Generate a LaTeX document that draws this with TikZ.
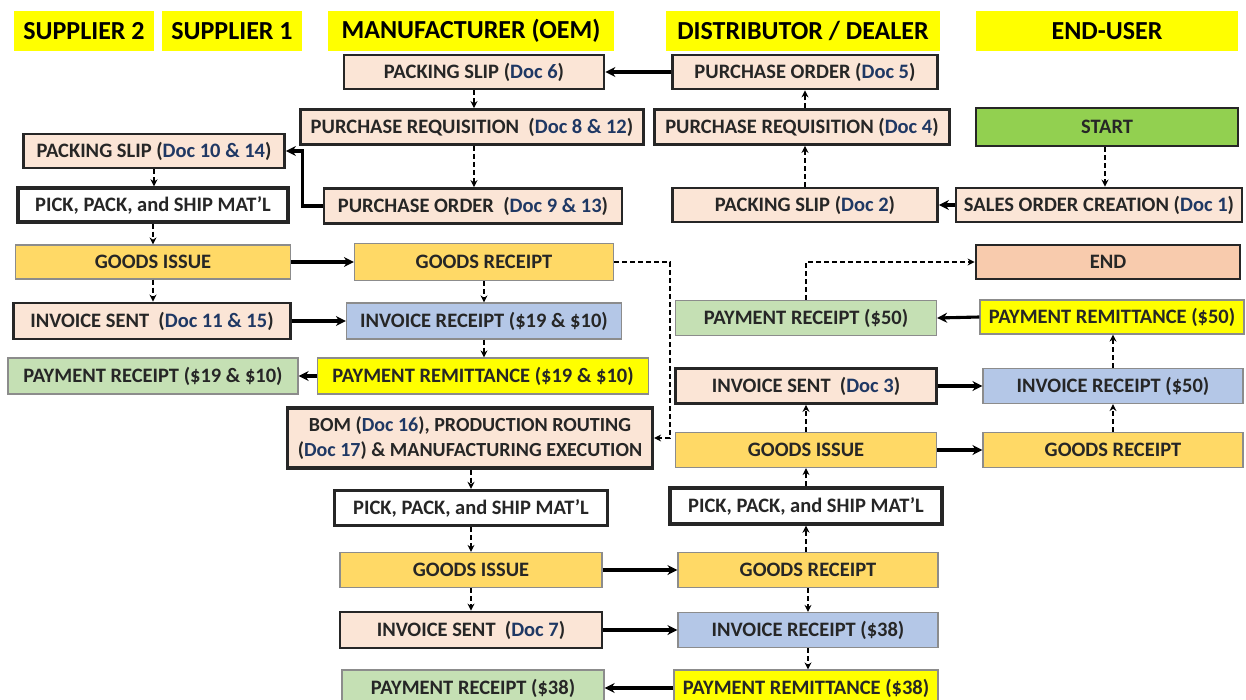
\documentclass[tikz,border=0pt]{standalone}
\usepackage{fontspec}
\setmainfont{Carlito}
\usetikzlibrary{arrows.meta,calc}
\definecolor{peach}{HTML}{FBE5D6}
\definecolor{gold}{HTML}{FFD966}
\definecolor{lblue}{HTML}{B4C7E7}
\definecolor{lgreen}{HTML}{C5E0B4}
\definecolor{yel}{HTML}{FFFF00}
\definecolor{startgreen}{HTML}{92D050}
\definecolor{endsalmon}{HTML}{F8CBAD}
\definecolor{docblue}{HTML}{1F3864}
\definecolor{txt}{HTML}{262626}
\definecolor{thinb}{HTML}{8C8C8C}
\newcommand{\dc}[1]{\textcolor{docblue}{#1}}
\tikzset{
  box/.style={rectangle, inner sep=0pt, align=center, text=txt,
    font=\fontsize{20.5}{23}\selectfont\bfseries},
  thickbox/.style={box, draw=black!85, line width=2.8pt},
  thinbox/.style={box, draw=thinb, line width=1.2pt},
  peachbox/.style={thickbox, fill=peach},
  whitebox/.style={thickbox, fill=white, line width=3.4pt},
  goldbox/.style={thinbox, fill=gold},
  bluebox/.style={thinbox, fill=lblue},
  greenbox/.style={thinbox, fill=lgreen},
  yelbox/.style={thinbox, fill=yel},
  hdr/.style={rectangle, fill=yel, inner sep=0pt, text=black,
    font=\fontsize{26}{30}\selectfont\bfseries, minimum height=40pt},
  sarrow/.style={draw=black, line width=3.1pt, -{Stealth[length=10pt,width=10pt]}},
  darrow/.style={draw=black, line width=1.9pt, dash pattern=on 5pt off 3pt, -{Stealth[length=7pt,width=7pt]}},
}
\begin{document}
\begin{tikzpicture}[x=1pt,y=-1pt]
\useasboundingbox (0,0) rectangle (1246,700);
\fill[white] (0,0) rectangle (1246,700);
\clip (0,0) rectangle (1246,700);
% headers
\node[hdr, minimum width=140pt] (h1) at (84,31) {SUPPLIER 2};
\node[hdr, minimum width=140pt] (h2) at (232,31) {SUPPLIER 1};
\node[hdr, minimum width=286pt] (h3) at (471,31) {MANUFACTURER (OEM)};
\node[hdr, minimum width=274pt] (h4) at (803,31) {DISTRIBUTOR / DEALER};
\node[hdr, minimum width=262pt] (h5) at (1107,31) {END-USER};
% boxes
\node[peachbox, minimum width=260pt, minimum height=34pt] (ps6) at (474,72) {PACKING SLIP (\dc{Doc 6})};
\node[peachbox, minimum width=265pt, minimum height=34pt] (po5) at (805,72) {PURCHASE ORDER (\dc{Doc 5})};
\node[peachbox, minimum width=343pt, minimum height=35pt] (pr812) at (472,127) {PURCHASE REQUISITION\ \ (\dc{Doc 8 \& 12})};
\node[peachbox, minimum width=295pt, minimum height=35pt] (pr4) at (802,127) {PURCHASE REQUISITION (\dc{Doc 4})};
\node[thickbox, fill=startgreen, minimum width=262pt, minimum height=38pt] (start) at (1107,127) {START};
\node[peachbox, minimum width=261pt, minimum height=34pt] (ps1014) at (154,151) {PACKING SLIP (\dc{Doc 10 \& 14})};
\node[whitebox, minimum width=270pt, minimum height=34pt] (pp1) at (153,205) {PICK, PACK, and SHIP MAT’L};
\node[peachbox, minimum width=298pt, minimum height=35pt] (po913) at (473,206) {PURCHASE ORDER\ \ (\dc{Doc 9 \& 13})};
\node[peachbox, minimum width=265pt, minimum height=34pt] (ps2) at (805,205) {PACKING SLIP (\dc{Doc 2})};
\node[peachbox, minimum width=286pt, minimum height=34pt] (so1) at (1099,205) {SALES ORDER CREATION (\dc{Doc 1})};
\node[goldbox, minimum width=275pt, minimum height=34pt] (gi1) at (153,262) {GOODS ISSUE};
\node[goldbox, minimum width=259pt, minimum height=37pt] (gr1) at (484,262) {GOODS RECEIPT};
\node[thickbox, fill=endsalmon, minimum width=264pt, minimum height=34pt] (end) at (1108,262) {END};
\node[greenbox, minimum width=261pt, minimum height=35pt] (pr50) at (806,318) {PAYMENT RECEIPT (\$50)};
\node[yelbox, minimum width=264pt, minimum height=34pt] (pm50) at (1112,317) {PAYMENT REMITTANCE (\$50)};
\node[peachbox, minimum width=277pt, minimum height=36pt] (is1115) at (152,321) {INVOICE SENT\ \ (\dc{Doc 11 \& 15})};
\node[bluebox, minimum width=275pt, minimum height=36pt] (ir1910) at (484,321) {INVOICE RECEIPT (\$19 \& \$10)};
\node[greenbox, minimum width=290pt, minimum height=36pt] (pr1910) at (153,376) {PAYMENT RECEIPT (\$19 \& \$10)};
\node[yelbox, minimum width=331pt, minimum height=36pt] (pm1910) at (483,376) {PAYMENT REMITTANCE (\$19 \& \$10)};
\node[peachbox, minimum width=261pt, minimum height=35pt] (is3) at (806,386) {INVOICE SENT\ \ (\dc{Doc 3})};
\node[bluebox, minimum width=260pt, minimum height=35pt] (ir50) at (1113,386) {INVOICE RECEIPT (\$50)};
\node[peachbox, minimum width=365pt, minimum height=60pt, line width=3.2pt, font=\fontsize{20}{25}\selectfont\bfseries] (bom) at (470,438) {BOM (\dc{Doc 16}), PRODUCTION ROUTING\\(\dc{Doc 17}) \& MANUFACTURING EXECUTION};
\node[goldbox, minimum width=261pt, minimum height=35pt] (gi2) at (806,450) {GOODS ISSUE};
\node[goldbox, minimum width=260pt, minimum height=35pt] (gr3) at (1113,450) {GOODS RECEIPT};
\node[whitebox, minimum width=273pt, minimum height=35pt] (pp2) at (471,508) {PICK, PACK, and SHIP MAT’L};
\node[whitebox, minimum width=272pt, minimum height=36pt] (pp3) at (806,506) {PICK, PACK, and SHIP MAT’L};
\node[goldbox, minimum width=262pt, minimum height=35pt] (gi3) at (471,570) {GOODS ISSUE};
\node[goldbox, minimum width=260pt, minimum height=35pt] (gr2) at (808,570) {GOODS RECEIPT};
\node[peachbox, minimum width=262pt, minimum height=36pt] (is7) at (471,630) {INVOICE SENT\ \ (\dc{Doc 7})};
\node[bluebox, minimum width=260pt, minimum height=35pt] (ir38) at (808,630) {INVOICE RECEIPT (\$38)};
\node[greenbox, minimum width=262pt, minimum height=36pt] (pr38) at (473,688) {PAYMENT RECEIPT (\$38)};
\node[yelbox, minimum width=264pt, minimum height=36pt] (pm38) at (806,688) {PAYMENT REMITTANCE (\$38)};
% solid horizontal arrows
\draw[sarrow] (po5.west) -- (ps6.east);
\draw[sarrow] (po913.west) -- ++(-20,0) |- (ps1014.east);
\draw[sarrow] (so1.west) -- (ps2.east);
\draw[sarrow] (gi1.east) -- (gr1.west);
\draw[sarrow] (is1115.east) -- (ir1910.west);
\draw[sarrow] (pm1910.west) -- (pr1910.east);
\draw[sarrow] (pm50.west) -- (pr50.east);
\draw[sarrow] (is3.east) -- (ir50.west);
\draw[sarrow] (gi2.east) -- (gr3.west);
\draw[sarrow] (gi3.east) -- (gr2.west);
\draw[sarrow] (is7.east) -- (ir38.west);
\draw[sarrow] (pm38.west) -- (pr38.east);
% dashed arrows
\draw[darrow] (ps6.south) -- (ps6.south |- pr812.north);
\draw[darrow] (ps6.south |- pr812.south) -- (ps6.south |- po913.north);
\draw[darrow] (ps1014.south) -- (ps1014.south |- pp1.north);
\draw[darrow] (pp1.south) -- (pp1.south |- gi1.north);
\draw[darrow] (gi1.south) -- (gi1.south |- is1115.north);
\draw[darrow] (gr1.south) -- (gr1.south |- ir1910.north);
\draw[darrow] (ir1910.south) -- (ir1910.south |- pm1910.north);
\draw[darrow] (gr1.east) -| ([xshift=16pt]bom.east) -- (bom.east);
\draw[darrow] (pp2.north |- bom.south) -- (pp2.north);
\draw[darrow] (pp2.south) -- (pp2.south |- gi3.north);
\draw[darrow] (gi3.south) -- (gi3.south |- is7.north);
\draw[darrow] (gr2.south) -- (gr2.south |- ir38.north);
\draw[darrow] (ir38.south) -- (ir38.south |- pm38.north);
\draw[darrow] (pp3.south |- gr2.north) -- (pp3.south);
\draw[darrow] (pp3.north) -- (pp3.north |- gi2.south);
\draw[darrow] (gi2.north) -- (gi2.north |- is3.south);
\draw[darrow] (gr3.north) -- (gr3.north |- ir50.south);
\draw[darrow] (ir50.north) -- (ir50.north |- pm50.south);
\draw[darrow] (pr50.north) |- (end.west);
\draw[darrow] ([xshift=-2pt]start.south) -- ([xshift=-2pt]start.south |- so1.north);
\draw[darrow] (po5.south |- ps2.north) -- (po5.south |- pr4.south);
\draw[darrow] (po5.south |- pr4.north) -- (po5.south);
\end{tikzpicture}
\end{document}
